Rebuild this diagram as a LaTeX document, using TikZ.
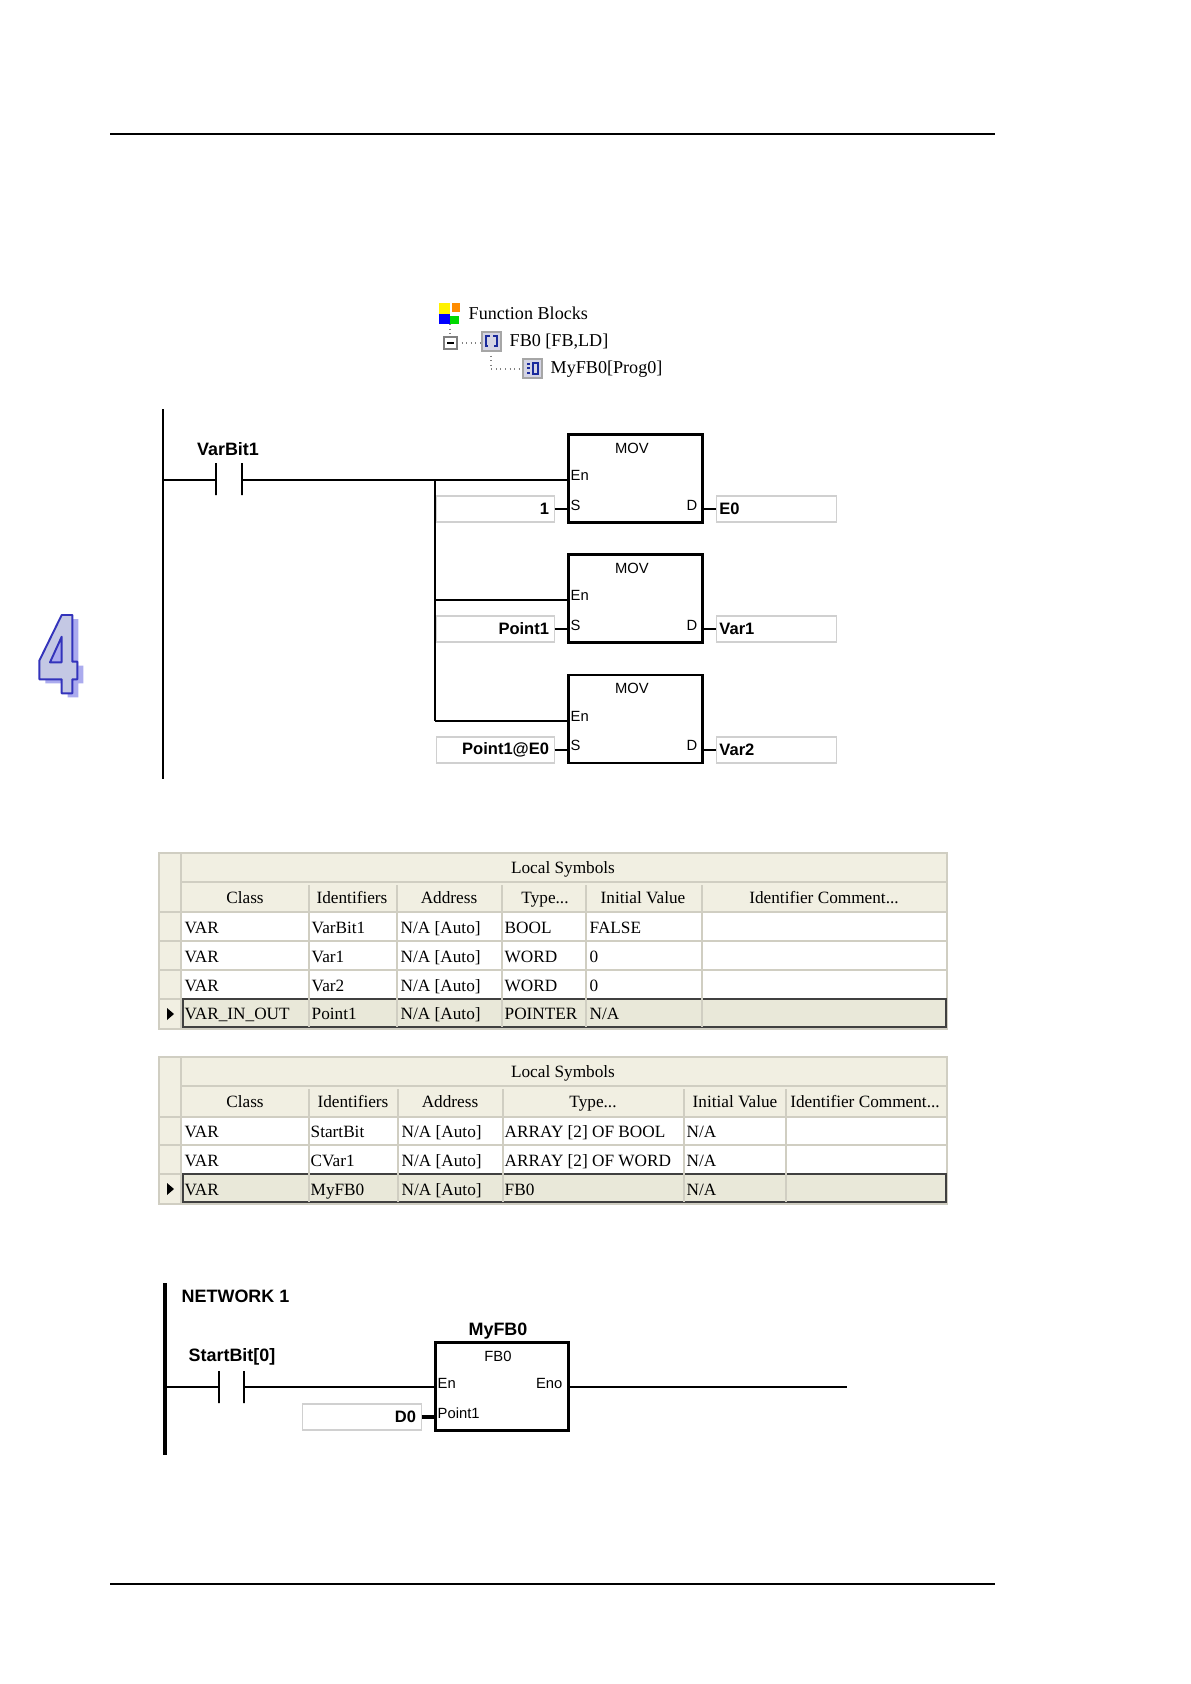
\documentclass[tikz,border=0pt]{standalone}
\usepackage{fontspec}
\setmainfont{Liberation Serif}
\setsansfont{Liberation Sans}
\usepackage{xcolor}
\usepackage{tikz}
\usetikzlibrary{positioning,calc}

\definecolor{gridcol}{HTML}{D0CEC2}
\definecolor{headcol}{HTML}{F1EFE2}
\definecolor{selcol}{HTML}{E9E8D9}
\definecolor{boxcol}{HTML}{D0D0D0}
\definecolor{iconcol}{HTML}{D4D4E4}
\definecolor{glyphcol}{HTML}{1A2A9C}
\definecolor{chapcol}{HTML}{3333BB}
\definecolor{chapface}{HTML}{C4C8E4}
\definecolor{chapshade}{HTML}{ABABEE}

\tikzset{
    wire/.style={line width=0.42pt},
    railline/.style={line width=0.7pt},
    fblock/.style={draw, line width=0.8pt, inner sep=0pt, minimum width=1.34cm},
    barline/.style={draw, line width=0.55pt, inner sep=0pt, minimum width=0pt, minimum height=0.32cm},
    valbox/.style={draw=boxcol, line width=0.3pt, minimum width=1.17cm, minimum height=0.26cm, inner ysep=0pt, inner xsep=0.5pt, text width=1.07cm, font=\fontsize{4.7}{5}\sffamily\bfseries},
    inbox/.style={valbox, align=right},
    outbox/.style={valbox, align=left, minimum width=1.19cm, text width=1.14cm},
    pinlab/.style={inner sep=0pt, font=\fontsize{4.2}{5}\sffamily},
    boldlab/.style={inner sep=0pt, font=\fontsize{5.1}{6}\sffamily\bfseries},
    treelab/.style={inner sep=0pt, anchor=west, font=\fontsize{5.15}{6}\selectfont},
    thead/.style={inner sep=0pt, text height=4.6pt, text depth=1pt, font=\fontsize{4.9}{6}\selectfont},
    tcell/.style={thead, anchor=west, xshift=-0.01cm},
    gridline/.style={draw=gridcol, line width=0.3pt},
    selbox/.style={draw=black!75, line width=0.5pt, fill=selcol}
}

\begin{document}
\begin{tikzpicture}[x=0.01cm, y=-0.01cm]
    \useasboundingbox (0,0) rectangle (1191,1684);

    % page rules
    \coordinate (ruleAl) at (110,134);
    \coordinate (ruleAr) at (995,134);
    \coordinate (ruleBl) at (110,1584);
    \coordinate (ruleBr) at (995,1584);
    \draw[wire] (ruleAl) -- (ruleAr);
    \draw[wire] (ruleBl) -- (ruleBr);

    % chapter number
    \fill[chapshade, even odd rule] (67.7,619) -- (78.3,619) -- (78.3,665.7) -- (83.3,665.7) -- (83.3,683.3) -- (78.3,683.3) -- (78.3,697.3) -- (67.7,697.3) -- (67.7,683.3) -- (45.3,683.3) -- (45.3,664.7) -- cycle;
    \draw[chapcol, fill=chapface, line width=0.55pt, even odd rule, line join=round] (61.7,615) -- (72.3,615) -- (72.3,661.7) -- (77.3,661.7) -- (77.3,679.3) -- (72.3,679.3) -- (72.3,693.3) -- (61.7,693.3) -- (61.7,679.3) -- (39.3,679.3) -- (39.3,660.7) -- cycle
        (61.7,636.7) -- (61.7,662.3) -- (50,662.3) -- cycle;

    % tree
    \fill[yellow] (439,303) rectangle (450,314);
    \fill[orange!90!yellow] (452,303) rectangle (460,312);
    \fill[blue] (439,314) rectangle (450,324);
    \fill[green!85!black] (450,316) rectangle (459,324);
    \draw[gray, densely dotted, line width=0.3pt] (450,324) -- (450,337);
    \draw[gray, densely dotted, line width=0.3pt] (457,343) -- (481,343);
    \draw[gray, densely dotted, line width=0.3pt] (491,351) -- (491,369) -- (522,369);
    \draw[gray, fill=white, line width=0.3pt] (444,337) rectangle (457,349);
    \draw[line width=0.4pt] (447,343) -- (454,343);
    \draw[gray!70, fill=iconcol, line width=0.4pt] (482,332) rectangle (501,351);
    \draw[glyphcol, line width=0.55pt] (490,336) -- (486,336) -- (486,346) -- (488,346);
    \draw[glyphcol, line width=0.55pt] (493,336) -- (497,336) -- (497,346) -- (494,346);
    \draw[gray!70, fill=iconcol, line width=0.4pt] (523,359) rectangle (542,378);
    \draw[glyphcol, line width=0.55pt] (527,364) -- (530,364) (527,368) -- (530,368) (527,373) -- (530,373);
    \draw[glyphcol, line width=0.55pt] (533,363) rectangle (538,374);
    \node[treelab] (treeroot) at (468,313) {Function Blocks};
    \node[treelab] (treefb) at (509,342) {FB0 [FB,LD]};
    \node[treelab] (treeinst) at (550,369) {MyFB0[Prog0]};

    % first ladder
    \coordinate (railAt) at (163,409);
    \coordinate (railAb) at (163,779);
    \coordinate (railAr) at (163,480);
    \draw[railline] (railAt) -- (railAb);
    \node[boldlab] (varbit) at (228,449) {VarBit1};
    \node[barline] (barAa) at (216,479) {};
    \node[barline] (barAb) at (242,479) {};
    \coordinate (joinA) at (435,480);
    \coordinate (joinB) at (435,600);
    \coordinate (joinC) at (435,721);

    \node[fblock, minimum height=0.88cm] (movA) at (635.5,478.5) {};
    \node[fblock, minimum height=0.88cm] (movB) at (635.5,598.5) {};
    \node[fblock, minimum height=0.88cm] (movC) at (635.5,719) {};
    \node[pinlab] (movAt) at (632,448) {MOV};
    \node[pinlab] (movBt) at (632,568) {MOV};
    \node[pinlab] (movCt) at (632,688) {MOV};
    \node[pinlab, anchor=west] (enA) at (570,475) {En};
    \node[pinlab, anchor=west] (enB) at (570,595) {En};
    \node[pinlab, anchor=west] (enC) at (570,716) {En};
    \node[pinlab, anchor=west] (sA) at (570,505) {S};
    \node[pinlab, anchor=west] (sB) at (570,625) {S};
    \node[pinlab, anchor=west] (sC) at (570,745) {S};
    \node[pinlab, anchor=east] (dA) at (698,505) {D};
    \node[pinlab, anchor=east] (dB) at (698,625) {D};
    \node[pinlab, anchor=east] (dC) at (698,745) {D};

    \node[inbox] (inA) at (495.5,509) {1};
    \node[inbox] (inB) at (495.5,629) {Point1};
    \node[inbox] (inC) at (495.5,750) {Point1@E0};
    \node[outbox] (outA) at (776.5,509) {E0};
    \node[outbox] (outB) at (776.5,629) {Var1};
    \node[outbox] (outC) at (776.5,750) {Var2};

    \draw[wire] (railAr) -- (railAr -| barAa);
    \draw[wire] (barAb |- railAr) -- (joinA) -- (joinA -| movA.west);
    \draw[wire] (joinA) -- (joinB) -- (joinC);
    \draw[wire] (joinB) -- (joinB -| movB.west);
    \draw[wire] (joinC) -- (joinC -| movC.west);
    \draw[wire] (inA.east) -- (inA.east -| movA.west);
    \draw[wire] (inB.east) -- (inB.east -| movB.west);
    \draw[wire] (inC.east) -- (inC.east -| movC.west);
    \draw[wire] (movA.east |- outA) -- (outA.west);
    \draw[wire] (movB.east |- outB) -- (outB.west);
    \draw[wire] (movC.east |- outC) -- (outC.west);

    % first table
    \draw[gridline, fill=headcol] (159,853) rectangle (947,1029);
    \fill[white] (181,912) rectangle (946,999);
    \draw[gridline] (181,853) -- (181,1029);
    \draw[gridline] (181,882) -- (947,882);
    \draw[gridline] (159,912) -- (947,912);
    \draw[gridline] (159,941) -- (947,941);
    \draw[gridline] (159,970) -- (947,970);
    \draw[gridline] (159,999) -- (183,999);
    \draw[selbox] (183,999) rectangle (946,1027);
    \draw[gridline] (309,885) -- (309,1027);
    \draw[gridline] (397,885) -- (397,1027);
    \draw[gridline] (502,885) -- (502,1027);
    \draw[gridline] (586,885) -- (586,1027);
    \draw[gridline] (702,885) -- (702,1027);
    \fill (167,1008) -- (167,1020) -- (174,1014) -- cycle;

    \node[thead] (aTitle) at (563,867) {Local Symbols};
    \node[thead] (aHa) at (245,897) {Class};
    \node[thead] (aHb) at (352,897) {Identifiers};
    \node[thead] (aHc) at (449,897) {Address};
    \node[thead] (aHd) at (545,897) {Type...};
    \node[thead] (aHe) at (643,897) {Initial Value};
    \node[thead] (aHf) at (824,897) {Identifier Comment...};
    \node[tcell] (aAa) at (185,927) {VAR};
    \node[tcell] (aAb) at (312,927) {VarBit1};
    \node[tcell] (aAc) at (401,927) {N/A [Auto]};
    \node[tcell] (aAd) at (505,927) {BOOL};
    \node[tcell] (aAe) at (590,927) {FALSE};
    \node[tcell] (aBa) at (185,956) {VAR};
    \node[tcell] (aBb) at (312,956) {Var1};
    \node[tcell] (aBc) at (401,956) {N/A [Auto]};
    \node[tcell] (aBd) at (505,956) {WORD};
    \node[tcell] (aBe) at (590,956) {0};
    \node[tcell] (aCa) at (185,985) {VAR};
    \node[tcell] (aCb) at (312,985) {Var2};
    \node[tcell] (aCc) at (401,985) {N/A [Auto]};
    \node[tcell] (aCd) at (505,985) {WORD};
    \node[tcell] (aCe) at (590,985) {0};
    \node[tcell] (aDa) at (185,1013) {VAR\_IN\_OUT};
    \node[tcell] (aDb) at (312,1013) {Point1};
    \node[tcell] (aDc) at (401,1013) {N/A [Auto]};
    \node[tcell] (aDd) at (505,1013) {POINTER};
    \node[tcell] (aDe) at (590,1013) {N/A};

    % second table
    \draw[gridline, fill=headcol] (159,1057) rectangle (947,1204);
    \fill[white] (181,1117) rectangle (946,1174);
    \draw[gridline] (181,1057) -- (181,1204);
    \draw[gridline] (181,1086) -- (947,1086);
    \draw[gridline] (159,1117) -- (947,1117);
    \draw[gridline] (159,1145) -- (947,1145);
    \draw[gridline] (159,1174) -- (183,1174);
    \draw[selbox] (183,1174) rectangle (946,1202);
    \draw[gridline] (309,1089) -- (309,1202);
    \draw[gridline] (398,1089) -- (398,1202);
    \draw[gridline] (503,1089) -- (503,1202);
    \draw[gridline] (684,1089) -- (684,1202);
    \draw[gridline] (786,1089) -- (786,1202);
    \fill (167,1183) -- (167,1195) -- (174,1189) -- cycle;

    \node[thead] (bTitle) at (563,1071) {Local Symbols};
    \node[thead] (bHa) at (245,1101) {Class};
    \node[thead] (bHb) at (353,1101) {Identifiers};
    \node[thead] (bHc) at (450,1101) {Address};
    \node[thead] (bHd) at (593,1101) {Type...};
    \node[thead] (bHe) at (735,1101) {Initial Value};
    \node[thead] (bHf) at (865,1101) {Identifier Comment...};
    \node[tcell] (bAa) at (185,1131) {VAR};
    \node[tcell] (bAb) at (311,1131) {StartBit};
    \node[tcell] (bAc) at (402,1131) {N/A [Auto]};
    \node[tcell] (bAd) at (505,1131) {ARRAY [2] OF BOOL};
    \node[tcell] (bAe) at (687,1131) {N/A};
    \node[tcell] (bBa) at (185,1160) {VAR};
    \node[tcell] (bBb) at (311,1160) {CVar1};
    \node[tcell] (bBc) at (402,1160) {N/A [Auto]};
    \node[tcell] (bBd) at (505,1160) {ARRAY [2] OF WORD};
    \node[tcell] (bBe) at (687,1160) {N/A};
    \node[tcell] (bCa) at (185,1189) {VAR};
    \node[tcell] (bCb) at (311,1189) {MyFB0};
    \node[tcell] (bCc) at (402,1189) {N/A [Auto]};
    \node[tcell] (bCd) at (505,1189) {FB0};
    \node[tcell] (bCe) at (687,1189) {N/A};

    % second ladder
    \coordinate (railBt) at (165,1283);
    \coordinate (railBb) at (165,1455);
    \coordinate (railBr) at (165,1387);
    \coordinate (lineEnd) at (847,1387);
    \draw[line width=1pt] (railBt) -- (railBb);
    \node[boldlab, anchor=west] (netlab) at (181,1296) {NETWORK 1};
    \node[boldlab] (startbit) at (232,1357) {StartBit[0]};
    \node[barline] (barBa) at (219,1387) {};
    \node[barline] (barBb) at (244,1387) {};
    \node[fblock, minimum width=1.33cm, minimum height=0.88cm] (myfb) at (502,1386.5) {};
    \node[boldlab] (myfbt) at (498,1331) {MyFB0};
    \node[pinlab] (fbt) at (498,1356) {FB0};
    \node[pinlab, anchor=west] (enD) at (437,1383) {En};
    \node[pinlab, anchor=east] (enoD) at (563,1383) {Eno};
    \node[pinlab, anchor=west] (ptD) at (437,1413) {Point1};
    \node[inbox, minimum width=1.18cm, text width=1.08cm] (inD) at (362,1417) {D0};

    \draw[wire] (railBr) -- (railBr -| barBa);
    \draw[wire] (barBb |- railBr) -- (railBr -| myfb.west);
    \draw[wire] (railBr -| myfb.east) -- (lineEnd);
    \draw[line width=1pt] (inD.east) -- (inD.east -| myfb.west);
\end{tikzpicture}
\end{document}
